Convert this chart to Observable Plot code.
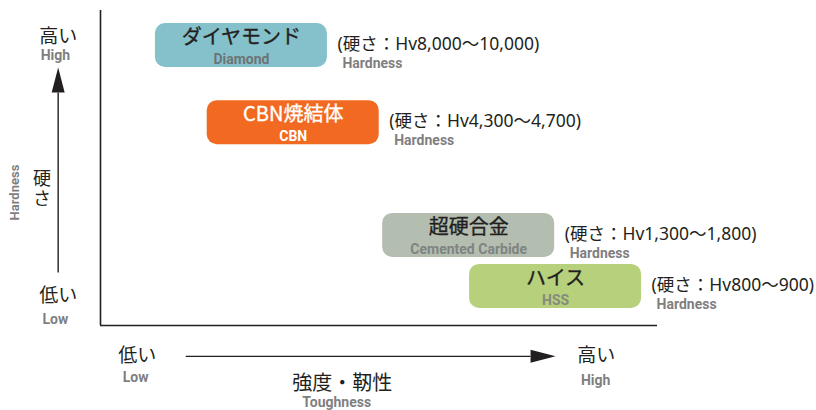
<!DOCTYPE html>
<html>
<head>
<meta charset="utf-8">
<script src="https://cdn.jsdelivr.net/npm/d3@7"></script>
<script src="https://cdn.jsdelivr.net/npm/@observablehq/plot@0.6"></script>
<style>
  html, body { margin: 0; padding: 0; background: #ffffff; }
  #chart svg { display: block; }
</style>
</head>
<body>
<div id="chart"></div>
<script>
// ---- data ----
const namesJa = ["ダイヤモンド", "CBN焼結体", "超硬合金", "ハイス"];
const namesEn = ["Diamond", "CBN", "Cemented Carbide", "HSS"];
const toughness = [25.3, 34.6, 66.1, 81.7];   // relative toughness (0–100)
const hardness = [88.9, 64.4, 28.6, 12.4];    // relative hardness (0–100)
const hvRange = ["8,000～10,000", "4,300～4,700", "1,300～1,800", "800～900"];

const yAxisLabels = {ja: "硬さ", en: "Hardness", highJa: "高い", highEn: "High", lowJa: "低い", lowEn: "Low"};
const xAxisLabels = {ja: "強度・靭性", en: "Toughness", highJa: "高い", highEn: "High", lowJa: "低い", lowEn: "Low"};

const materials = namesJa.map((ja, i) => ({
  ja, en: namesEn[i], t: toughness[i], h: hardness[i], hv: hvRange[i]
}));

// ---- styles ----
const boxFill = {"ダイヤモンド": "#84c1cb", "CBN焼結体": "#f26a22", "超硬合金": "#b3bdb0", "ハイス": "#b6d07c"};
const nameFill = {"ダイヤモンド": "#231f20", "CBN焼結体": "#ffffff", "超硬合金": "#231f20", "ハイス": "#231f20"};
const subFill = {"ダイヤモンド": "#6d7476", "CBN焼結体": "#ffffff", "超硬合金": "#7f8481", "ハイス": "#858c7c"};
const INK = "#231f20";
const GRAY = "#7f7f7f";
const JP = "'Noto Sans CJK JP', sans-serif";
const EN = "Roboto, 'Noto Sans', sans-serif";
const MIX = "'Noto Sans', 'Noto Sans CJK JP', sans-serif";

const W = 816, H = 410;
const M = {top: 10, right: 159, bottom: 85, left: 100};
const pxPerX = (W - M.left - M.right) / 100;
const pxPerY = (H - M.top - M.bottom) / 100;
const hw = 86 / pxPerX;   // box half-width in data units
const hh = 22 / pxPerY;   // box half-height in data units

// arrowheads (filled, tip at origin)
const arrowUp = {draw(ctx) { ctx.moveTo(0, 0); ctx.lineTo(6.5, 25); ctx.lineTo(-6.5, 25); ctx.closePath(); }};
const arrowRight = {draw(ctx) { ctx.moveTo(0, 0); ctx.lineTo(-25, -6.5); ctx.lineTo(-25, 6.5); ctx.closePath(); }};

// annotation placement (data units, outside the frame)
const yAxisX = -7.6, yArrowFrom = 16.8, yArrowTo = 81.9, yArrowBase = 74.0;
const xAxisY = -9.8, xArrowFrom = 15.3, xArrowTo = 81.7, xArrowBase = 77.2;
const c = v => () => v;

const chart = Plot.plot({
  width: W, height: H,
  marginTop: M.top, marginRight: M.right, marginBottom: M.bottom, marginLeft: M.left,
  x: {domain: [0, 100], axis: null},
  y: {domain: [0, 100], axis: null},
  color: {type: "identity"},
  style: {background: "#ffffff", fontFamily: JP, overflow: "visible"},
  marks: [
    // frame (left and bottom)
    Plot.ruleX([0], {stroke: INK, strokeWidth: 1.6}),
    Plot.ruleY([0], {stroke: INK, strokeWidth: 1.6}),

    // material boxes
    Plot.rect(materials, {
      x1: d => d.t - hw, x2: d => d.t + hw,
      y1: d => d.h - hh, y2: d => d.h + hh,
      fill: d => boxFill[d.ja], rx: 10, ry: 10
    }),
    Plot.text(materials, {x: "t", y: "h", text: "ja", dy: -8, fontSize: 20,
      fontFamily: JP, fill: d => nameFill[d.ja], stroke: d => nameFill[d.ja], strokeWidth: 0.35}),
    Plot.text(materials, {x: "t", y: "h", text: "en", dy: 14, fontSize: 14, fontWeight: "bold",
      fontFamily: EN, fill: d => subFill[d.ja]}),

    // hardness values
    Plot.text(materials, {x: d => d.t + hw, y: "h", text: d => `(硬さ：Hv${d.hv})`, dx: 10, dy: -1,
      textAnchor: "start", fontSize: 17.5, fontFamily: MIX, fill: INK}),
    Plot.text(materials, {x: d => d.t + hw, y: "h", text: () => "Hardness", dx: 15, dy: 18,
      textAnchor: "start", fontSize: 14, fontWeight: "bold", fontFamily: EN, fill: GRAY}),

    // vertical axis annotation
    Plot.link([0], {x1: c(yAxisX), x2: c(yAxisX), y1: c(yArrowFrom), y2: c(yArrowBase), stroke: INK, strokeWidth: 1.4}),
    Plot.dot([0], {x: c(yAxisX), y: c(yArrowTo), symbol: arrowUp, fill: INK, stroke: "none"}),
    Plot.text([yAxisLabels.highJa], {x: c(yAxisX), y: c(91.7), fontSize: 19, fontFamily: JP, fill: INK}),
    Plot.text([yAxisLabels.highEn], {x: c(yAxisX - 0.5), y: c(85.7), fontSize: 14, fontWeight: "bold", fontFamily: EN, fill: GRAY}),
    Plot.text([yAxisLabels.lowJa], {x: c(yAxisX), y: c(9.5), fontSize: 19, fontFamily: JP, fill: INK}),
    Plot.text([yAxisLabels.lowEn], {x: c(yAxisX - 0.5), y: c(2.0), fontSize: 14, fontWeight: "bold", fontFamily: EN, fill: GRAY}),
    Plot.text(["硬\nさ"], {x: c(-10.5), y: c(43.5), fontSize: 18, lineHeight: 1.1, fontFamily: JP, fill: INK}),
    Plot.text([yAxisLabels.en], {x: c(-15.4), y: c(42.2), rotate: -90, fontSize: 13, fontWeight: "bold", fontFamily: EN, fill: GRAY}),

    // horizontal axis annotation
    Plot.link([0], {x1: c(xArrowFrom), x2: c(xArrowBase), y1: c(xAxisY), y2: c(xAxisY), stroke: INK, strokeWidth: 1.4}),
    Plot.dot([0], {x: c(xArrowTo), y: c(xAxisY), symbol: arrowRight, fill: INK, stroke: "none"}),
    Plot.text([xAxisLabels.lowJa], {x: c(6.6), y: c(xAxisY), fontSize: 19, fontFamily: JP, fill: INK}),
    Plot.text([xAxisLabels.lowEn], {x: c(6.3), y: c(-16.5), fontSize: 14, fontWeight: "bold", fontFamily: EN, fill: GRAY}),
    Plot.text([xAxisLabels.highJa], {x: c(89.0), y: c(xAxisY), fontSize: 19, fontFamily: JP, fill: INK}),
    Plot.text([xAxisLabels.highEn], {x: c(88.9), y: c(-17.5), fontSize: 14, fontWeight: "bold", fontFamily: EN, fill: GRAY}),
    Plot.text([xAxisLabels.ja], {x: c(43.4), y: c(-18.4), fontSize: 20, fontFamily: JP, fill: INK}),
    Plot.text([xAxisLabels.en], {x: c(42.4), y: c(-24.6), fontSize: 14, fontWeight: "bold", fontFamily: EN, fill: GRAY})
  ]
});

document.getElementById("chart").appendChild(chart);
</script>
</body>
</html>
